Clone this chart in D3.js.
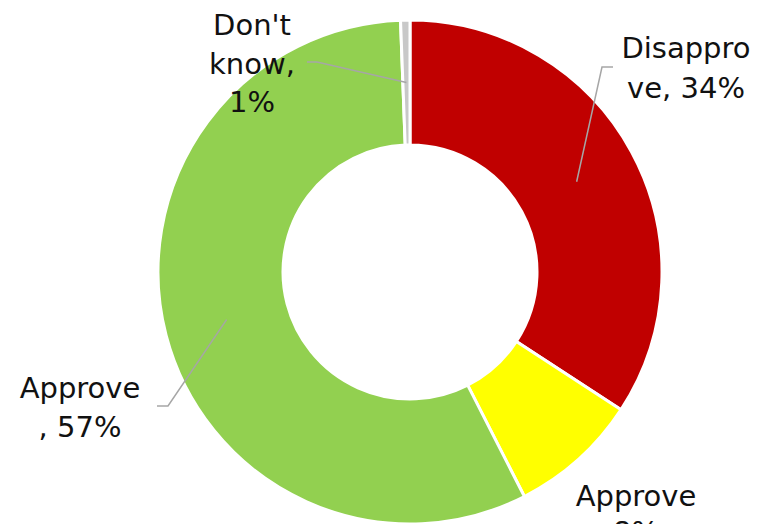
<!DOCTYPE html>
<html><head><meta charset="utf-8">
<script src="https://cdn.jsdelivr.net/npm/d3@7"></script>
<style>html,body{margin:0;padding:0;background:#fff;overflow:hidden}</style>
</head><body>
<svg id="c" width="763" height="524"></svg>
<script>
const categories = ["Disapprove", "Approve", "Approve", "Don't know"];
const values = [34.2, 8.3, 56.9, 0.6];
const pctLabels = ["34%", "8%", "57%", "1%"];
const colors = ["#C00000", "#FFFF00", "#92D050", "#C8C8C8"];
// label text lines as wrapped in the original
const labelLines = [["Disappro", "ve, 34%"], ["Approve", "8%"], ["Approve", ", 57%"], ["Don't", "know,", "1%"]];

const svg = d3.select("#c");
const cx = 410, cy = 272, rOuter = 252, rInner = 127;
const g = svg.append("g").attr("transform", `translate(${cx},${cy})`);

const pie = d3.pie().sort(null).value(d => d)(values);
const arc = d3.arc().innerRadius(rInner).outerRadius(rOuter);

g.selectAll("path.slice").data(pie).enter().append("path")
  .attr("class", "slice")
  .attr("d", arc)
  .attr("fill", (d, i) => colors[i])
  .attr("stroke", "#fff").attr("stroke-width", 3).attr("stroke-linejoin", "round");

// label positions (center x, first baseline) relative to svg
const labelPos = [[686, 58], [636, 506], [80, 398], [252, 35]];
const lineH = [40, 36, 39, 38.5];
labelLines.forEach((lines, i) => {
  const t = svg.append("text")
    .attr("text-anchor", "middle")
    .attr("font-family", "'DejaVu Sans', sans-serif")
    .attr("font-size", 29)
    .attr("fill", "#111");
  lines.forEach((s, j) => {
    t.append("tspan").attr("x", labelPos[i][0]).attr("y", labelPos[i][1] + j * lineH[i]).text(s);
  });
});

// leader lines: from label anchor to the slice's mid-angle, mid-ring point
const midArc = d3.arc().innerRadius((rInner + rOuter) / 2).outerRadius((rInner + rOuter) / 2);
const leaders = [
  { i: 0, start: [613, 67], elbow: [602, 67] },
  { i: 2, start: [157, 406], elbow: [168, 406] },
  { i: 3, start: [307, 62], elbow: [317, 62] }
];
leaders.forEach(L => {
  const c = midArc.centroid(pie[L.i]);
  const end = [cx + c[0], cy + c[1]];
  svg.append("path")
    .attr("d", d3.line()([L.start, L.elbow, end]))
    .attr("fill", "none").attr("stroke", "#A6A6A6").attr("stroke-width", 1.5);
});
</script>
</body></html>
